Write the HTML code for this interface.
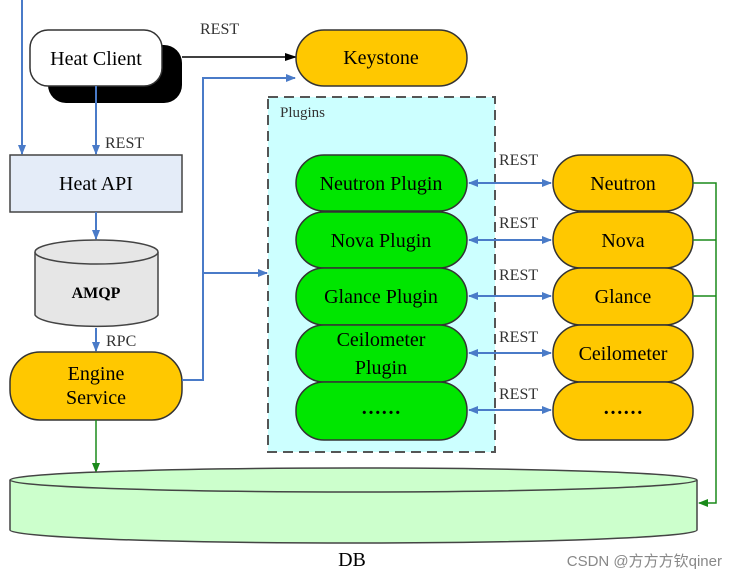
<!DOCTYPE html>
<html><head><meta charset="utf-8"><style>
html,body{margin:0;padding:0;background:#fff;}
svg{display:block;font-family:"Liberation Serif",serif;}
</style></head><body>
<svg width="731" height="579" viewBox="0 0 731 579" xmlns="http://www.w3.org/2000/svg">
<defs>
<marker id="ab" markerWidth="10" markerHeight="10" refX="9" refY="5" orient="auto" markerUnits="userSpaceOnUse"><path d="M0,1 L10,5 L0,9 z" fill="#4a7bc8"/></marker>
<marker id="abs" markerWidth="10" markerHeight="10" refX="1" refY="5" orient="auto" markerUnits="userSpaceOnUse"><path d="M10,1 L0,5 L10,9 z" fill="#4a7bc8"/></marker>
<marker id="ak" markerWidth="12" markerHeight="10" refX="11" refY="5" orient="auto" markerUnits="userSpaceOnUse"><path d="M0,1 L12,5 L0,9 z" fill="#000"/></marker>
<marker id="ag" markerWidth="10" markerHeight="10" refX="9" refY="5" orient="auto" markerUnits="userSpaceOnUse"><path d="M0,1 L10,5 L0,9 z" fill="#1a8a1a"/></marker>
</defs>
<!-- plugins box -->
<rect x="268" y="97" width="227" height="355" fill="#ccffff" stroke="#555" stroke-width="2" stroke-dasharray="10,6"/>
<text x="280" y="117" font-size="15" fill="#333">Plugins</text>

<!-- left blue line -->
<line x1="22" y1="0" x2="22" y2="154" stroke="#4a7bc8" stroke-width="2" marker-end="url(#ab)"/>
<!-- Heat client -->
<rect x="48" y="45" width="134" height="58" rx="18" fill="#000"/>
<rect x="30" y="30" width="132" height="56" rx="18" fill="#fff" stroke="#333" stroke-width="1.5"/>
<text x="96" y="65" font-size="20" text-anchor="middle">Heat Client</text>
<line x1="182" y1="57" x2="296" y2="57" stroke="#000" stroke-width="1.5" marker-end="url(#ak)"/>
<text x="200" y="34" font-size="16" fill="#333">REST</text>
<line x1="96" y1="86" x2="96" y2="154" stroke="#4a7bc8" stroke-width="2" marker-end="url(#ab)"/>
<text x="105" y="148" font-size="16" fill="#333">REST</text>
<!-- Heat API -->
<rect x="10" y="155" width="172" height="57" fill="#e4ecf8" stroke="#444" stroke-width="1.5"/>
<text x="96" y="190" font-size="20" text-anchor="middle">Heat API</text>
<line x1="96" y1="212" x2="96" y2="239" stroke="#4a7bc8" stroke-width="2" marker-end="url(#ab)"/>
<!-- AMQP -->
<path d="M35,252 L35,315 A62,13 0 0 0 158,315 L158,252" fill="#e6e6e6" stroke="#444" stroke-width="1.5"/>
<ellipse cx="96.5" cy="252" rx="61.5" ry="12" fill="#e6e6e6" stroke="#444" stroke-width="1.5"/>
<text x="96" y="298" font-size="16" font-weight="bold" text-anchor="middle">AMQP</text>
<line x1="96" y1="328" x2="96" y2="351" stroke="#4a7bc8" stroke-width="2" marker-end="url(#ab)"/>
<text x="106" y="346" font-size="16" fill="#333">RPC</text>
<!-- Engine -->
<rect x="10" y="352" width="172" height="68" rx="30" fill="#ffc800" stroke="#333" stroke-width="1.5"/>
<text x="96" y="380" font-size="20" text-anchor="middle">Engine</text>
<text x="96" y="404" font-size="20" text-anchor="middle">Service</text>
<polyline points="182,380 203,380 203,78 295,78" fill="none" stroke="#4a7bc8" stroke-width="2" marker-end="url(#ab)"/>
<line x1="203" y1="273" x2="267" y2="273" stroke="#4a7bc8" stroke-width="2" marker-end="url(#ab)"/>
<line x1="96" y1="420" x2="96" y2="472" stroke="#1a8a1a" stroke-width="1.5" marker-end="url(#ag)"/>
<!-- Keystone -->
<rect x="296" y="30" width="171" height="56" rx="28" fill="#ffc800" stroke="#333" stroke-width="1.5"/>
<text x="381" y="64" font-size="20" text-anchor="middle">Keystone</text>

<!-- plugins -->
<g stroke="#333" stroke-width="1.5" fill="#00e600">
<rect x="296" y="155" width="171" height="56" rx="28"/>
<rect x="296" y="212" width="171" height="56" rx="28"/>
<rect x="296" y="268" width="171" height="57" rx="28"/>
<rect x="296" y="325" width="171" height="57" rx="28"/>
<rect x="296" y="382" width="171" height="58" rx="28"/>
</g>
<g font-size="20" text-anchor="middle">
<text x="381" y="190">Neutron Plugin</text>
<text x="381" y="247">Nova Plugin</text>
<text x="381" y="303">Glance Plugin</text>
<text x="381" y="346">Ceilometer</text>
<text x="381" y="374">Plugin</text>
<text x="381" y="414" font-weight="bold">……</text>
</g>
<!-- services -->
<g stroke="#333" stroke-width="1.5" fill="#ffc800">
<rect x="553" y="155" width="140" height="56" rx="28"/>
<rect x="553" y="212" width="140" height="56" rx="28"/>
<rect x="553" y="268" width="140" height="57" rx="28"/>
<rect x="553" y="325" width="140" height="57" rx="28"/>
<rect x="553" y="382" width="140" height="58" rx="28"/>
</g>
<g font-size="20" text-anchor="middle">
<text x="623" y="190">Neutron</text>
<text x="623" y="247">Nova</text>
<text x="623" y="303">Glance</text>
<text x="623" y="360">Ceilometer</text>
<text x="623" y="414" font-weight="bold">……</text>
</g>
<g stroke="#4a7bc8" stroke-width="2" marker-start="url(#abs)" marker-end="url(#ab)">
<line x1="469" y1="183" x2="551" y2="183"/>
<line x1="469" y1="240" x2="551" y2="240"/>
<line x1="469" y1="296" x2="551" y2="296"/>
<line x1="469" y1="353" x2="551" y2="353"/>
<line x1="469" y1="410" x2="551" y2="410"/>
</g>
<g font-size="16" fill="#333">
<text x="499" y="165">REST</text>
<text x="499" y="228">REST</text>
<text x="499" y="280">REST</text>
<text x="499" y="342">REST</text>
<text x="499" y="399">REST</text>
</g>
<!-- green right -->
<polyline points="693,183 716,183 716,503 699,503" fill="none" stroke="#1a8a1a" stroke-width="1.5" marker-end="url(#ag)"/>
<line x1="693" y1="240" x2="716" y2="240" stroke="#1a8a1a" stroke-width="1.5"/>
<line x1="693" y1="296" x2="716" y2="296" stroke="#1a8a1a" stroke-width="1.5"/>
<!-- DB -->
<path d="M10,480 L10,530 A343,13 0 0 0 697,530 L697,480" fill="#ccffcc" stroke="#444" stroke-width="1.5"/>
<ellipse cx="353.5" cy="480" rx="343.5" ry="12" fill="#ccffcc" stroke="#444" stroke-width="1.5"/>
<text x="352" y="566" font-size="20" text-anchor="middle">DB</text>
<text x="722" y="566" font-size="15" fill="#888" text-anchor="end" font-family="Liberation Sans, Noto Sans CJK SC, sans-serif">CSDN @方方方钦qiner</text>
</svg>
</body></html>
